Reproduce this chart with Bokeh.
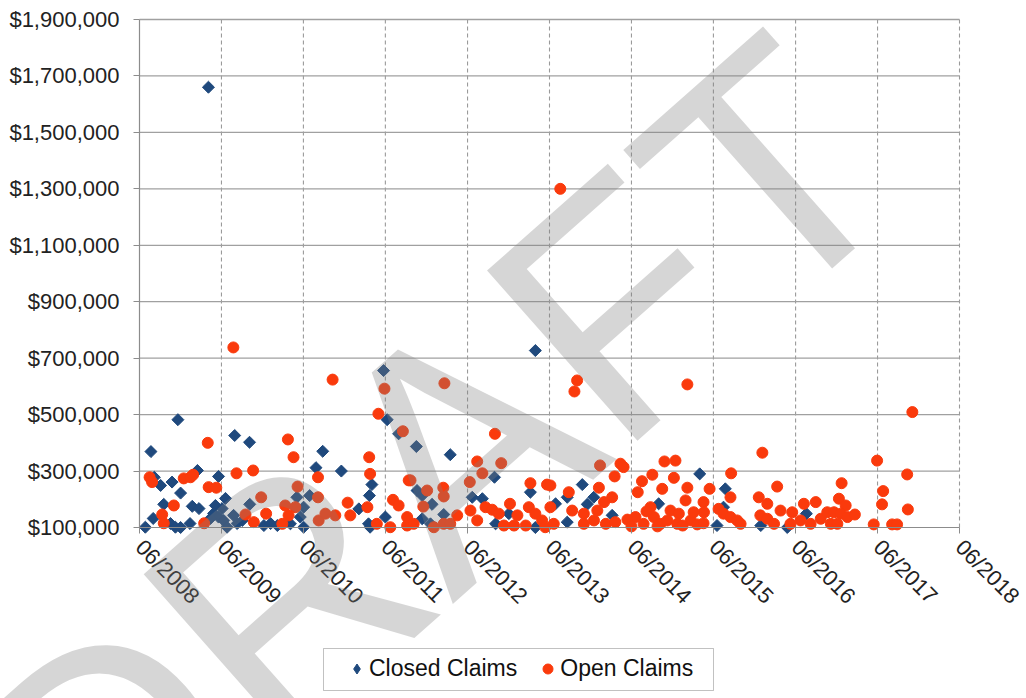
import pandas as pd
from bokeh.plotting import figure
from bokeh.models import (FixedTicker, NumeralTickFormatter, DatetimeTickFormatter,
                          Legend, LegendItem, Label, Range1d, ColumnDataSource,
                          BoxAnnotation, CDSView, IndexFilter)
from bokeh.embed import file_html
from bokeh.resources import INLINE

# ---------------- data ----------------
tick_labels = ["06/2008", "06/2009", "06/2010", "06/2011", "06/2012", "06/2013",
               "06/2014", "06/2015", "06/2016", "06/2017", "06/2018"]
y_ticks = [100000, 300000, 500000, 700000, 900000, 1100000, 1300000, 1500000, 1700000, 1900000]

closed_dates = [
    "2009-04-04", "2008-11-19", "2008-07-22", "2009-07-30", "2009-10-04", "2009-02-14",
    "2009-05-19", "2008-08-06", "2008-09-03", "2008-10-24", "2008-12-01", "2008-09-17",
    "2009-01-22", "2009-02-21", "2009-05-05", "2009-06-19", "2009-06-04", "2009-10-05",
    "2008-08-01", "2008-06-27", "2008-10-17", "2008-11-08", "2008-12-01", "2009-01-12",
    "2009-04-27", "2009-05-19", "2009-06-11", "2009-06-26", "2009-07-25", "2009-08-10",
    "2009-09-02", "2009-12-07", "2010-01-06", "2009-04-13",
    "2011-05-24", "2011-06-09", "2010-08-26", "2010-07-27", "2010-11-17", "2011-04-02",
    "2011-03-22", "2010-05-03", "2010-06-29", "2010-06-02", "2011-02-03", "2011-06-01",
    "2010-05-18", "2010-02-05", "2010-04-04", "2010-06-02", "2011-03-18", "2011-03-25",
    "2011-07-30",
    "2011-10-17", "2012-03-16", "2012-09-29", "2011-10-20", "2011-11-12", "2011-12-26",
    "2012-06-22", "2012-08-06", "2013-03-08", "2011-11-12", "2011-12-19", "2012-02-16",
    "2012-10-04", "2012-12-02", "2013-03-30", "2013-03-30",
    "2013-10-25", "2013-08-19", "2013-12-15", "2013-11-16", "2013-06-28", "2013-08-19",
    "2014-03-07", "2014-09-30",
    "2015-04-01", "2015-07-24", "2015-07-16", "2015-06-17", "2015-12-29", "2016-04-25",
    "2016-07-19",
]
closed_amounts = [
    1660000, 482000, 369000, 426000, 402000, 302000,
    281000, 278000, 249000, 261000, 222000, 182000,
    175000, 167000, 178000, 203000, 167000, 182000,
    132000, 101000, 114000, 101000, 100000, 114000,
    150000, 137000, 125000, 101000, 143000, 114000,
    125000, 107000, 114000, 132000,
    656000, 482000, 370000, 312000, 300000, 252000,
    213000, 207000, 213000, 172000, 166000, 137000,
    137000, 107000, 113000, 101000, 113000, 101000,
    432000,
    387000, 358000, 278000, 231000, 213000, 182000,
    207000, 202000, 225000, 131000, 113000, 146000,
    113000, 149000, 100000, 727000,
    252000, 207000, 207000, 182000, 184000, 119000,
    143000, 184000,
    290000, 237000, 172000, 107000, 107000, 100000,
    149000,
]

open_dates = [
    "2009-07-24", "2009-04-01", "2009-08-07", "2009-10-20", "2008-07-16", "2008-07-27",
    "2008-12-15", "2009-01-14", "2009-01-26", "2009-04-05", "2009-05-09", "2009-11-25",
    "2008-11-01", "2008-09-10", "2008-09-17", "2009-03-16", "2009-09-16", "2009-10-23",
    "2009-12-17",
    "2010-10-09", "2011-05-28", "2011-05-01", "2011-08-18", "2010-03-24", "2010-04-18",
    "2011-03-21", "2011-03-25", "2010-08-05", "2010-05-06", "2011-09-13", "2010-08-05",
    "2010-12-15", "2011-03-13", "2011-07-05", "2011-07-30", "2010-03-12", "2010-04-26",
    "2010-03-27", "2010-02-27", "2010-08-08", "2010-09-07", "2010-10-21", "2010-12-27",
    "2011-04-24", "2011-06-23", "2011-09-06", "2011-09-06",
    "2012-02-19", "2012-10-01", "2012-07-14", "2012-10-29", "2012-08-06", "2012-06-11",
    "2011-09-21", "2011-12-04", "2012-02-14", "2012-02-16", "2011-11-17", "2013-03-08",
    "2013-05-21", "2012-12-07", "2012-06-14", "2012-08-20", "2012-09-19", "2012-10-18",
    "2013-03-01", "2013-03-30", "2013-06-05", "2013-01-09", "2012-02-16", "2012-03-16",
    "2012-04-16", "2012-01-03", "2012-07-14", "2012-11-10", "2012-12-25", "2013-02-15",
    "2013-04-29", "2013-05-13", "2011-10-05", "2013-07-19",
    "2013-10-02", "2013-09-20", "2015-02-05", "2014-01-12", "2014-04-13", "2014-04-27",
    "2014-03-18", "2014-10-26", "2014-12-14", "2014-09-02", "2014-07-18", "2014-12-07",
    "2014-01-07", "2014-10-16", "2014-06-29", "2015-02-05", "2013-08-26", "2014-03-07",
    "2014-01-30", "2015-01-28", "2013-09-10", "2013-11-01", "2013-12-31", "2014-08-25",
    "2014-11-22", "2014-12-29", "2013-06-20", "2013-11-01", "2013-12-16", "2014-02-07",
    "2014-03-21", "2014-06-19", "2014-07-25", "2014-09-09", "2014-10-08", "2014-11-08",
    "2014-12-22", "2015-02-20", "2013-06-05", "2014-05-14", "2014-06-01", "2014-08-07",
    "2014-09-25", "2015-01-15", "2015-03-21",
    "2016-01-05", "2015-08-19", "2016-03-11", "2015-05-15", "2015-08-16", "2015-12-20",
    "2016-01-27", "2015-04-18", "2015-04-20", "2015-03-05", "2015-06-24", "2015-07-16",
    "2015-08-16", "2015-09-15", "2015-09-30", "2015-04-18", "2015-12-27", "2016-01-27",
    "2016-03-26", "2016-02-26", "2016-05-17", "2016-05-09", "2016-07-08", "2016-08-30",
    "2016-06-23", "2016-08-07", "2016-09-21", "2016-10-20", "2016-11-05",
    "2017-11-03", "2017-05-30", "2017-10-11", "2016-12-23", "2017-06-26", "2017-06-21",
    "2017-10-14", "2016-12-11", "2017-01-10", "2016-11-19", "2016-12-19", "2017-01-18",
    "2016-12-04", "2017-02-20", "2017-05-15", "2017-08-05", "2017-08-27",
]
open_amounts = [
    738000, 400000, 292000, 302000, 278000, 261000,
    274000, 278000, 287000, 243000, 241000, 207000,
    178000, 146000, 115000, 115000, 146000, 119000,
    149000,
    624000, 592000, 503000, 441000, 412000, 349000,
    349000, 290000, 278000, 245000, 267000, 207000,
    188000, 172000, 198000, 178000, 178000, 172000,
    143000, 113000, 125000, 149000, 143000, 143000,
    113000, 101000, 137000, 107000,
    611000, 432000, 334000, 328000, 292000, 261000,
    267000, 231000, 241000, 210000, 174000, 257000,
    252000, 184000, 160000, 172000, 163000, 149000,
    172000, 149000, 172000, 143000, 113000, 113000,
    143000, 101000, 125000, 107000, 107000, 107000,
    125000, 101000, 113000, 1300000,
    621000, 582000, 607000, 320000, 326000, 314000,
    281000, 334000, 337000, 287000, 264000, 276000,
    241000, 237000, 225000, 241000, 225000, 207000,
    190000, 196000, 160000, 149000, 160000, 172000,
    160000, 149000, 113000, 113000, 125000, 113000,
    119000, 137000, 113000, 137000, 113000, 125000,
    113000, 125000, 249000, 128000, 104000, 157000,
    104000, 107000, 111000,
    365000, 292000, 245000, 237000, 207000, 207000,
    184000, 190000, 154000, 154000, 166000, 149000,
    137000, 125000, 113000, 115000, 143000, 131000,
    160000, 113000, 154000, 113000, 184000, 190000,
    125000, 113000, 131000, 154000, 113000,
    509000, 337000, 288000, 257000, 229000, 182000,
    164000, 202000, 178000, 154000, 149000, 137000,
    113000, 146000, 111000, 111000, 111000,
]

series_names = ["Closed Claims", "Open Claims"]
watermark_text = "DRAFT"

# ---------------- layout / styling ----------------
FONT = "Liberation Sans"
BLUE = "#1F497D"
RED = "#FA3A0C"
W, H = 1026, 698
PLOT_L, PLOT_R, PLOT_T, PLOT_B = 139, 959, 19, 527   # plot box in canvas pixels

tick_ts = pd.to_datetime(tick_labels, format="%m/%Y")
tick_ms = [t.timestamp() * 1000 for t in tick_ts]
x0, x1 = tick_ms[0], tick_ms[-1]
y0, y1 = y_ticks[0], y_ticks[-1]
xs = (x1 - x0) / (PLOT_R - PLOT_L)
ys = (y1 - y0) / (PLOT_B - PLOT_T)

# the frame covers the whole canvas; axes are pinned at the plot box edges
p = figure(width=W, height=H, x_axis_type="datetime",
           x_range=Range1d(x0 - PLOT_L * xs, x1 + (W - PLOT_R) * xs),
           y_range=Range1d(y0 - (H - PLOT_B) * ys, y1 + PLOT_T * ys),
           output_backend="svg", toolbar_location=None,
           min_border=0)
p.outline_line_color = None
p.background_fill_color = "white"
p.border_fill_color = "white"
p.grid.visible = False

# grid lines (from the tick lists)
vgrid = ColumnDataSource(dict(x=tick_ms[1:], ya=[y0] * (len(tick_ms) - 1), yb=[y1] * (len(tick_ms) - 1)))
hgrid = ColumnDataSource(dict(y=y_ticks[1:], xa=[x0] * (len(y_ticks) - 1), xb=[x1] * (len(y_ticks) - 1)))
p.segment(x0="x", y0="ya", x1="x", y1="yb", source=vgrid, line_color="#9a9a9a",
          line_width=1.1, line_dash="4 3", level="underlay")
p.segment(x0="xa", y0="y", x1="xb", y1="y", source=hgrid, line_color="#a0a0a0",
          line_width=1.3, level="underlay")

closed_src = ColumnDataSource(dict(x=pd.to_datetime(closed_dates), y=closed_amounts))
open_src = ColumnDataSource(dict(x=pd.to_datetime(open_dates), y=open_amounts))

# legend swatch for the diamonds (a tiny copy of the first point, hidden under it)
r_closed_key = p.scatter("x", "y", source=closed_src, marker="diamond", size=4,
                         view=CDSView(filter=IndexFilter([0])),
                         fill_color=BLUE, line_color=BLUE)
r_closed = p.scatter("x", "y", source=closed_src, marker="square", angle=0.785398,
                     size=8.5, fill_color=BLUE, line_color=BLUE)
r_open = p.scatter("x", "y", source=open_src, marker="circle",
                   size=11, fill_color=RED, line_color=RED)

# axes
p.xaxis.ticker = FixedTicker(ticks=tick_ms)
fmt = "%m/%Y"
p.xaxis.formatter = DatetimeTickFormatter(years=fmt, months=fmt, days=fmt, hours=fmt,
                                          minutes=fmt, seconds=fmt, milliseconds=fmt,
                                          microseconds=fmt, hourmin=fmt, minsec=fmt)
p.xaxis.major_label_orientation = -0.785398
p.xaxis.fixed_location = y0
p.xaxis.bounds = (x0, x1)
p.yaxis.ticker = FixedTicker(ticks=y_ticks)
p.yaxis.formatter = NumeralTickFormatter(format="$0,0")
p.yaxis.fixed_location = x0
p.yaxis.bounds = (y0, y1)
for ax in (p.xaxis[0], p.yaxis[0]):
    ax.axis_line_color = "#8c8c8c"
    ax.axis_line_width = 1.2
    ax.major_tick_line_color = "#8c8c8c"
    ax.major_tick_out = 6
    ax.major_tick_in = 0
    ax.minor_tick_line_color = None
    ax.major_label_text_font = FONT
    ax.major_label_text_color = "#222222"
p.yaxis.major_label_text_font_size = "22px"
p.xaxis.major_label_text_font_size = "22px"
p.yaxis.major_label_standoff = 14
p.xaxis.major_label_standoff = 10

# legend box + legend
p.add_layout(BoxAnnotation(left=323, right=713, top=H - 648, bottom=H - 690,
                           left_units="screen", right_units="screen",
                           top_units="screen", bottom_units="screen",
                           fill_color="white", fill_alpha=1.0,
                           line_color="#333333", line_width=1))
legend = Legend(items=[LegendItem(label=series_names[0], renderers=[r_closed_key]),
                       LegendItem(label=series_names[1], renderers=[r_open])],
                orientation="horizontal", location=(344, 16))
legend.label_text_font = FONT
legend.label_text_font_size = "23px"
legend.label_text_color = "#111111"
legend.border_line_color = None
legend.background_fill_alpha = 0
legend.glyph_width = 25
legend.glyph_height = 25
legend.label_standoff = 0
legend.spacing = 18
legend.padding = 0
legend.margin = 0
p.add_layout(legend)

# watermark
wm = Label(x=19, y=-136, x_units="screen", y_units="screen", text=watermark_text,
           angle=41.5, angle_units="deg", text_font=FONT, text_font_size="330px",
           text_color="#808080", text_alpha=0.32, text_align="left",
           text_baseline="alphabetic", level="overlay")
p.add_layout(wm)

open("out.html", "w").write(file_html(p, INLINE))
